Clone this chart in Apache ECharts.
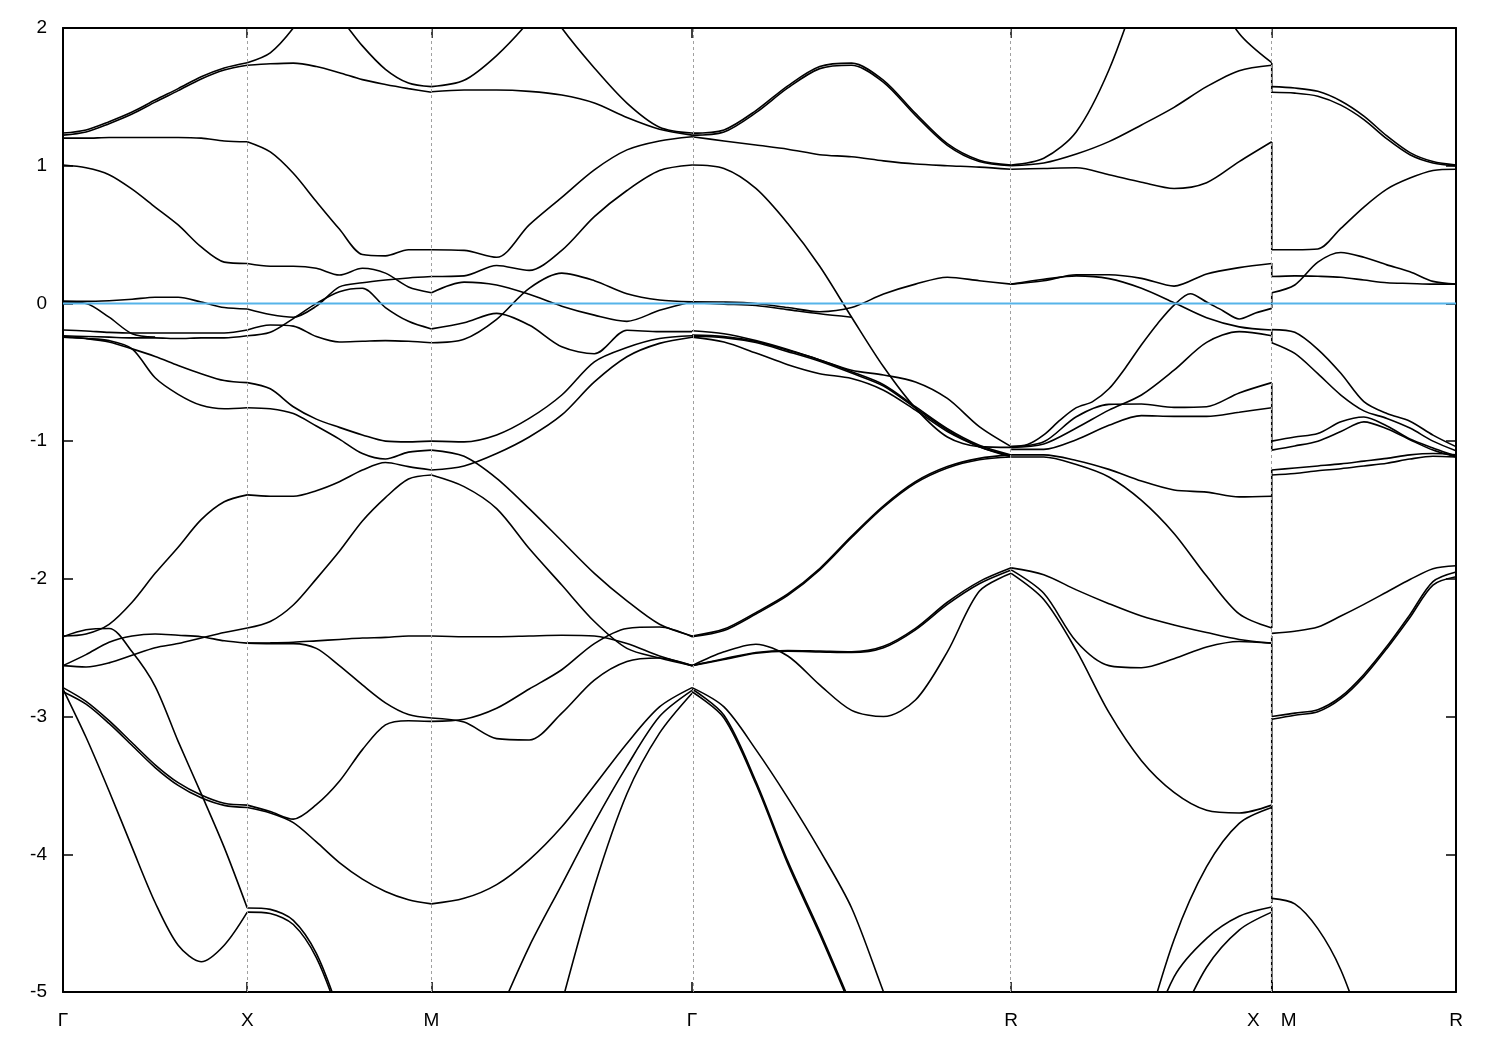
<!DOCTYPE html>
<html><head><meta charset="utf-8">
<script src="https://cdn.jsdelivr.net/npm/echarts@6/dist/echarts.min.js"></script>
<style>html,body{margin:0;padding:0;background:#fff}#c{width:1500px;height:1050px}</style>
</head><body><div id="c"></div>
<script>
// k-path high-symmetry points (2π/a units) and their labels
const kPos = [0, 0.5, 1.0, 1.70711, 2.57314, 3.28025, 3.78025];
const kLabels = ['Γ', 'X', 'M', 'Γ', 'R', 'X    M', 'R'];
const yTickValues = [-5, -4, -3, -2, -1, 0, 1, 2];
const fermiLevel = 0;

// Each band: energies (eV) at equally spaced k points along the segment (null = off chart)
const bandsGX = [
  [1.237, 1.26, 1.32, 1.39, 1.477, 1.56, 1.646, 1.71, 1.748],
  [1.222, 1.245, 1.305, 1.375, 1.462, 1.545, 1.63, 1.695, 1.73],
  [1.20, 1.20, 1.205, 1.205, 1.205, 1.205, 1.20, 1.18, 1.174],
  [1.005, 0.985, 0.935, 0.83, 0.70, 0.57, 0.41, 0.30, 0.29],
  [0.017, 0.015, 0.02, 0.03, 0.045, 0.045, 0.01, -0.03, -0.04],
  [0.01, 0.0, -0.10, -0.22, -0.245, null, null, null, null],
  [-0.193, -0.20, -0.21, -0.215, -0.215, -0.215, -0.215, -0.215, -0.193],
  [-0.235, -0.24, -0.245, -0.25, -0.25, -0.255, -0.25, -0.25, -0.235],
  [-0.24, -0.255, -0.28, -0.33, -0.385, -0.45, -0.51, -0.56, -0.575],
  [-0.245, -0.255, -0.27, -0.33, -0.54, -0.66, -0.74, -0.765, -0.757],
  [-2.415, -2.40, -2.33, -2.17, -1.96, -1.77, -1.57, -1.44, -1.39],
  [-2.42, -2.37, -2.36, -2.53, -2.78, -3.18, -3.56, -3.95, -4.39],
  [-2.63, -2.55, -2.46, -2.415, -2.40, -2.41, -2.42, -2.45, -2.467],
  [-2.63, -2.64, -2.61, -2.555, -2.50, -2.47, -2.43, -2.39, -2.357],
  [-2.80, -3.15, -3.54, -3.95, -4.35, -4.66, -4.78, -4.66, -4.42],
  [-2.79, -2.89, -3.03, -3.19, -3.35, -3.48, -3.57, -3.63, -3.643],
  [-2.82, -2.91, -3.05, -3.21, -3.37, -3.50, -3.59, -3.645, -3.66]
];
const bandsXM = [
  [1.748, 1.82, 2.0, 2.25, 2.08, 1.87, 1.70, 1.60, 1.574],
  [1.73, 1.74, 1.745, 1.72, 1.675, 1.625, 1.59, 1.56, 1.533],
  [1.174, 1.10, 0.945, 0.74, 0.54, 0.355, 0.345, 0.39, 0.39],
  [0.29, 0.27, 0.27, 0.255, 0.206, 0.255, 0.22, 0.12, 0.078],
  [-0.04, -0.08, -0.10, -0.02, 0.12, 0.15, 0.17, 0.185, 0.195],
  [-0.193, -0.157, -0.165, -0.24, -0.28, -0.275, -0.27, -0.275, -0.285],
  [-0.235, -0.21, -0.11, 0.0, 0.085, 0.11, -0.03, -0.13, -0.185],
  [-0.575, -0.62, -0.75, -0.84, -0.90, -0.955, -1.0, -1.005, -1.0],
  [-0.757, -0.765, -0.80, -0.89, -0.985, -1.09, -1.13, -1.08, -1.065],
  [-1.39, -1.40, -1.40, -1.36, -1.295, -1.21, -1.155, -1.185, -1.21],
  [-2.357, -2.31, -2.19, -2.00, -1.80, -1.58, -1.41, -1.275, -1.246],
  [-2.467, -2.465, -2.46, -2.45, -2.44, -2.43, -2.425, -2.415, -2.415],
  [-2.467, -2.47, -2.47, -2.505, -2.63, -2.77, -2.90, -2.985, -3.01],
  [-3.643, -3.69, -3.745, -3.64, -3.47, -3.24, -3.06, -3.03, -3.035],
  [-3.66, -3.70, -3.77, -3.91, -4.06, -4.18, -4.27, -4.33, -4.36],
  [-4.39, -4.40, -4.48, -4.72, -5.15, null, null, null, null],
  [-4.42, -4.43, -4.51, -4.75, -5.18, null, null, null, null]
];
const bandsMG = [
  [1.574, 1.62, 1.80, 2.05, 2.35, null, null, null, null],
  [null, null, null, 2.35, 2.0, 1.71, 1.455, 1.28, 1.237],
  [1.537, 1.55, 1.55, 1.54, 1.513, 1.455, 1.35, 1.265, 1.222],
  [0.39, 0.385, 0.335, 0.57, 0.77, 0.97, 1.115, 1.18, 1.21],
  [0.195, 0.20, 0.275, 0.24, 0.385, 0.63, 0.82, 0.965, 1.005],
  [0.078, 0.155, 0.134, 0.066, -0.02, -0.085, -0.13, -0.05, 0.012],
  [-0.285, -0.26, -0.115, 0.11, 0.22, 0.165, 0.07, 0.025, 0.012],
  [-0.185, -0.14, -0.072, -0.157, -0.315, -0.365, -0.195, -0.205, -0.205],
  [-1.0, -1.005, -0.955, -0.835, -0.665, -0.424, -0.32, -0.255, -0.235],
  [-1.21, -1.18, -1.09, -0.97, -0.81, -0.57, -0.387, -0.29, -0.245],
  [-1.246, -1.33, -1.49, -1.78, -2.045, -2.31, -2.505, -2.575, -2.63],
  [-1.065, -1.11, -1.27, -1.49, -1.725, -1.96, -2.16, -2.33, -2.415],
  [-2.415, -2.42, -2.42, -2.415, -2.41, -2.415, -2.47, -2.56, -2.63],
  [-3.035, -3.02, -2.94, -2.80, -2.66, -2.47, -2.36, -2.35, -2.42],
  [-3.01, -3.04, -3.16, -3.17, -2.975, -2.735, -2.60, -2.575, -2.63],
  [-4.36, -4.32, -4.22, -4.04, -3.80, -3.50, -3.195, -2.93, -2.79],
  [null, null, -5.2, -4.67, -4.22, -3.77, -3.36, -3.0, -2.81],
  [null, null, null, null, -5.08, -4.235, -3.56, -3.12, -2.83]
];
const bandsGR = [
  [1.237, 1.26, 1.40, 1.58, 1.72, 1.745, 1.62, 1.38, 1.16, 1.04, 1.005],
  [1.222, 1.245, 1.385, 1.565, 1.705, 1.73, 1.605, 1.365, 1.148, 1.03, 1.0],
  [1.21, 1.18, 1.15, 1.12, 1.08, 1.065, 1.035, 1.012, 1.0, 0.99, 0.974],
  [1.005, 0.98, 0.835, 0.58, 0.27, -0.10, -0.46, -0.76, -0.97, -1.04, -1.045],
  [0.012, 0.01, 0.0, -0.03, -0.06, -0.03, 0.068, 0.14, 0.19, 0.165, 0.14],
  [0.005, -0.005, -0.015, -0.045, -0.075, -0.10, null, null, null, null, null],
  [-0.198, -0.22, -0.27, -0.335, -0.41, -0.485, -0.52, -0.57, -0.69, -0.895, -1.04],
  [-0.23, -0.24, -0.276, -0.34, -0.41, -0.496, -0.59, -0.75, -0.91, -1.03, -1.10],
  [-0.238, -0.248, -0.284, -0.35, -0.42, -0.506, -0.60, -0.76, -0.92, -1.04, -1.105],
  [-0.245, -0.28, -0.36, -0.445, -0.51, -0.545, -0.63, -0.775, -0.93, -1.04, -1.115],
  [-2.415, -2.365, -2.245, -2.11, -1.925, -1.69, -1.47, -1.295, -1.185, -1.125, -1.10],
  [-2.42, -2.375, -2.255, -2.12, -1.935, -1.70, -1.48, -1.305, -1.195, -1.135, -1.115],
  [-2.63, -2.53, -2.475, -2.56, -2.77, -2.955, -3.0, -2.88, -2.53, -2.09, -1.96],
  [-2.63, -2.58, -2.535, -2.52, -2.525, -2.53, -2.49, -2.36, -2.17, -2.02, -1.92],
  [-2.63, -2.585, -2.54, -2.525, -2.53, -2.535, -2.50, -2.37, -2.185, -2.035, -1.935],
  [-2.80, -2.99, -3.47, -4.05, -4.56, -5.1, null, null, null, null, null],
  [-2.82, -3.01, -3.49, -4.07, -4.58, -5.12, null, null, null, null, null],
  [-2.79, -2.93, -3.24, -3.59, -3.97, -4.39, -5.0, -5.6, null, null, null]
];
const bandsRX = [
  [1.005, 1.054, 1.247, 1.695, 2.35, null, null, null, null],
  [null, null, null, null, null, null, 2.35, 1.96, 1.748],
  [1.0, 1.02, 1.085, 1.175, 1.296, 1.424, 1.574, 1.69, 1.73],
  [0.974, 0.98, 0.985, 0.935, 0.88, 0.835, 0.877, 1.03, 1.174],
  [0.14, 0.165, 0.208, 0.208, 0.182, 0.126, 0.214, 0.26, 0.29],
  [0.14, 0.175, 0.20, 0.18, 0.11, 0.005, -0.104, -0.17, -0.193],
  [-1.04, -1.025, -0.955, -0.847, -0.757, -0.713, -0.62, -0.47, -0.30, -0.145, -0.012, 0.07, 0.01, -0.053, -0.113, -0.07, -0.036],
  [-1.04, -1.005, -0.823, -0.733, -0.73, -0.755, -0.75, -0.65, -0.575],
  [-1.045, -1.02, -0.905, -0.775, -0.665, -0.485, -0.283, -0.205, -0.235],
  [-1.06, -1.06, -0.99, -0.885, -0.815, -0.82, -0.82, -0.79, -0.757],
  [-1.10, -1.10, -1.14, -1.205, -1.29, -1.355, -1.37, -1.405, -1.40],
  [-1.115, -1.115, -1.17, -1.26, -1.43, -1.67, -1.98, -2.255, -2.357],
  [-1.92, -1.97, -2.08, -2.18, -2.27, -2.335, -2.39, -2.44, -2.467],
  [-1.935, -2.105, -2.455, -2.63, -2.645, -2.58, -2.495, -2.455, -2.467],
  [-1.96, -2.15, -2.52, -2.97, -3.32, -3.55, -3.68, -3.70, -3.643],
  [null, null, null, null, -5.4, -4.62, -4.09, -3.775, -3.66],
  [null, null, null, null, -5.5, -4.89, -4.61, -4.45, -4.383],
  [null, null, null, null, null, -5.3, -4.82, -4.55, -4.42]
];
const bandsMR = [
  [1.574, 1.564, 1.54, 1.47, 1.36, 1.216, 1.095, 1.03, 1.005],
  [1.533, 1.527, 1.505, 1.44, 1.335, 1.195, 1.08, 1.02, 1.0],
  [0.39, 0.39, 0.395, 0.545, 0.70, 0.83, 0.91, 0.965, 0.974],
  [0.195, 0.20, 0.197, 0.19, 0.17, 0.15, 0.145, 0.14, 0.14],
  [0.078, 0.134, 0.30, 0.37, 0.335, 0.28, 0.23, 0.16, 0.14],
  [-0.19, -0.21, -0.333, -0.507, -0.713, -0.80, -0.855, -0.956, -1.04],
  [-0.285, -0.363, -0.51, -0.665, -0.78, -0.835, -0.905, -1.0, -1.07],
  [-1.0, -0.97, -0.945, -0.86, -0.825, -0.89, -0.985, -1.05, -1.11],
  [-1.065, -1.035, -1.0, -0.93, -0.86, -0.91, -0.99, -1.065, -1.115],
  [-1.21, -1.195, -1.18, -1.165, -1.145, -1.125, -1.10, -1.09, -1.10],
  [-1.246, -1.235, -1.215, -1.20, -1.18, -1.16, -1.13, -1.11, -1.115],
  [-2.396, -2.38, -2.35, -2.27, -2.185, -2.095, -2.005, -1.926, -1.905],
  [-3.0, -2.975, -2.95, -2.856, -2.694, -2.49, -2.26, -2.02, -1.95],
  [-3.02, -2.99, -2.965, -2.87, -2.71, -2.505, -2.28, -2.045, -1.985],
  [-4.32, -4.36, -4.54, -4.84, -5.3, null, null, null, null]
];
// discontinuity X|M: energy spans of the vertical connecting segments
const jumpsXM = [
  [1.746, 1.528], [1.172, 0.388], [0.293, 0.192], [0.076, -0.033], [-0.193, -0.288],
  [-0.578, -1.065], [-1.21, -2.357], [-2.415, -2.998], [-3.012, -3.628],
  [-3.643, -4.354], [-4.383, -5.3]
];

const segments = [
  [bandsGX, 0, 1], [bandsXM, 1, 2], [bandsMG, 2, 3],
  [bandsGR, 3, 4], [bandsRX, 4, 5], [bandsMR, 5, 6]
];

const chart = echarts.init(document.getElementById('c'), null, {renderer: 'canvas'});
const kMax = kPos[kPos.length - 1];
const series = [];
const bandStyle = {color: '#000', width: 1.6};

segments.forEach(([bands, i0, i1]) => {
  const k0 = kPos[i0], k1 = kPos[i1];
  bands.forEach(b => {
    const n = b.length;
    const data = [];
    b.forEach((v, i) => { if (v !== null) data.push([k0 + (k1 - k0) * i / (n - 1), v]); });
    series.push({type: 'line', data, smooth: 0.3, symbol: 'none', lineStyle: bandStyle,
      silent: true, z: 3, clip: true});
  });
});
jumpsXM.forEach(([a, b]) => {
  series.push({type: 'line', data: [[kPos[5], a], [kPos[5], b]], symbol: 'none',
    lineStyle: bandStyle, silent: true, z: 3, clip: true});
});
// vertical dashed guides at interior high-symmetry points + Fermi level
series.push({
  type: 'line', data: [[0, fermiLevel], [kMax, fermiLevel]], symbol: 'none',
  lineStyle: {color: '#56b4e9', width: 2}, silent: true, z: 5,
  markLine: {
    silent: true, symbol: 'none', animation: false,
    label: {show: false},
    lineStyle: {color: '#a0a0a0', type: [3, 3], width: 1},
    data: kPos.slice(1, -1).map(k => ({xAxis: k}))
  }
});

function labelFor(v) {
  let best = 0;
  kPos.forEach((k, i) => { if (Math.abs(k - v) < Math.abs(kPos[best] - v)) best = i; });
  return kLabels[best];
}

const tickStyle = {show: true, inside: true, length: 10, lineStyle: {color: '#000', width: 1.5}};
const axisLineStyle = {show: true, onZero: false, lineStyle: {color: '#000', width: 2}};
const labelFont = {color: '#000', fontSize: 19, fontFamily: 'Liberation Sans, Arial, sans-serif'};

chart.setOption({
  animation: false,
  backgroundColor: '#fff',
  grid: {left: 63, top: 28, right: 44, bottom: 58, containLabel: false},
  xAxis: [
    {type: 'value', min: 0, max: kMax, position: 'bottom',
      axisLine: axisLineStyle,
      axisTick: Object.assign({customValues: kPos}, tickStyle),
      axisLabel: Object.assign({customValues: kPos, margin: 19, formatter: v => labelFor(v)}, labelFont),
      splitLine: {show: false}},
    {type: 'value', min: 0, max: kMax, position: 'top',
      axisLine: axisLineStyle,
      axisTick: Object.assign({customValues: kPos}, tickStyle),
      axisLabel: {show: false}, splitLine: {show: false}}
  ],
  yAxis: [
    {type: 'value', min: -5, max: 2, interval: 1, position: 'left',
      axisLine: axisLineStyle, axisTick: tickStyle,
      axisLabel: Object.assign({margin: 16}, labelFont),
      splitLine: {show: false}},
    {type: 'value', min: -5, max: 2, interval: 1, position: 'right',
      axisLine: axisLineStyle, axisTick: tickStyle,
      axisLabel: {show: false}, splitLine: {show: false}}
  ],
  series
});
</script>
</body></html>
